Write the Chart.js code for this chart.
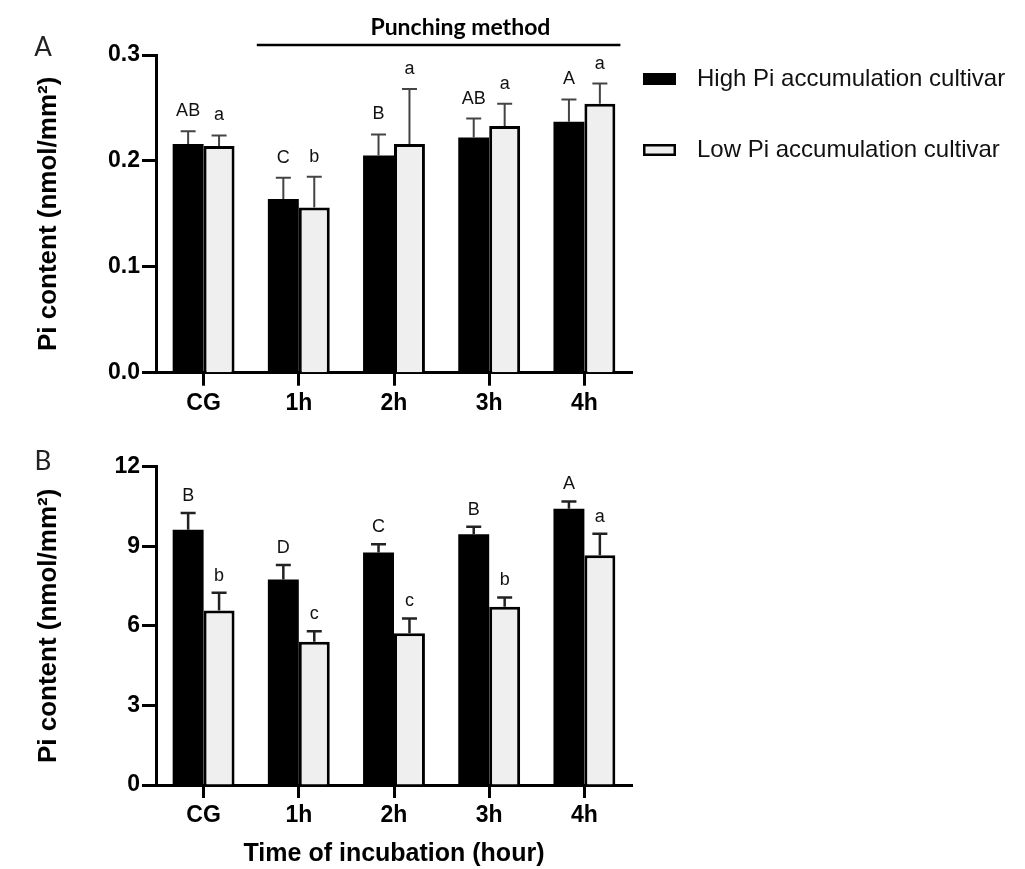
<!DOCTYPE html>
<html>
<head>
<meta charset="utf-8">
<script src="https://cdn.jsdelivr.net/npm/chart.js@4.4.1/dist/chart.umd.min.js"></script>
<style>
  html, body { margin: 0; padding: 0; background: #fff; }
  #chartA { position: absolute; left: 0; top: 0; }
  #chartB { position: absolute; left: 0; top: 430px; }
</style>
</head>
<body>
<canvas id="chartA" width="1025" height="430"></canvas>
<canvas id="chartB" width="1025" height="439"></canvas>
<script>
// categories and series
var categories = ['CG', '1h', '2h', '3h', '4h'];
var seriesNames = ['High Pi accumulation cultivar', 'Low Pi accumulation cultivar'];

// panel A: punching method (nmol/mm2)
var highA = [0.216, 0.164, 0.205, 0.222, 0.237];
var highAErr = [0.012, 0.020, 0.020, 0.018, 0.021];
var highALetters = ['AB', 'C', 'B', 'AB', 'A'];
var lowA = [0.214, 0.156, 0.216, 0.233, 0.254];
var lowAErr = [0.010, 0.029, 0.052, 0.021, 0.019];
var lowALetters = ['a', 'b', 'a', 'a', 'a'];

// panel B (nmol/mm2)
var highB = [9.62, 7.75, 8.77, 9.45, 10.41];
var highBErr = [0.63, 0.54, 0.31, 0.29, 0.28];
var highBLetters = ['B', 'D', 'C', 'B', 'A'];
var lowB = [6.58, 5.40, 5.72, 6.72, 8.66];
var lowBErr = [0.67, 0.40, 0.56, 0.35, 0.81];
var lowBLetters = ['b', 'c', 'c', 'b', 'a'];

var yTicksA = [0, 0.1, 0.2, 0.3];
var yTicksB = [0, 3, 6, 9, 12];

var darkFill = '#000000';
var lightFill = '#efefef';
var axisFont = { family: 'Liberation Sans', weight: 'bold', size: 23 };

// error bars + significance letters
var errorBarPlugin = {
    id: 'errorBars',
    afterDatasetsDraw: function(chart, args, opts) {
        var ctx = chart.ctx;
        var yScale = chart.scales.y;
        chart.data.datasets.forEach(function(ds, i) {
            var meta = chart.getDatasetMeta(i);
            meta.data.forEach(function(bar, j) {
                var top = yScale.getPixelForValue(ds.data[j] + ds.errors[j]);
                ctx.save();
                ctx.strokeStyle = opts.color;
                ctx.lineWidth = opts.width;
                ctx.beginPath();
                ctx.moveTo(bar.x, bar.y);
                ctx.lineTo(bar.x, top);
                ctx.moveTo(bar.x - opts.cap, top);
                ctx.lineTo(bar.x + opts.cap, top);
                ctx.stroke();
                ctx.fillStyle = '#111';
                ctx.font = '18px "Liberation Sans"';
                ctx.textAlign = 'center';
                ctx.textBaseline = 'middle';
                ctx.fillText(ds.letters[j], bar.x, top - opts.gap);
                ctx.restore();
            });
        });
    }
};

// panel letter and "Punching method" bracket
var panelPlugin = {
    id: 'panel',
    afterDraw: function(chart, args, opts) {
        var ctx = chart.ctx;
        ctx.save();
        ctx.fillStyle = '#222';
        ctx.font = '26px Lato';
        ctx.textAlign = 'center';
        ctx.textBaseline = 'middle';
        ctx.fillText(opts.letter, opts.letterX, opts.letterY);
        if (opts.bracket) {
            var xs = chart.scales.x;
            var x0 = xs.getPixelForValue(1) - 42;
            var x1 = xs.getPixelForValue(4) + 36;
            var ly = chart.chartArea.top - 10;
            ctx.strokeStyle = '#000';
            ctx.lineWidth = 2.5;
            ctx.beginPath();
            ctx.moveTo(x0, ly);
            ctx.lineTo(x1, ly);
            ctx.stroke();
            ctx.fillStyle = '#000';
            ctx.font = 'bold 23px Lato';
            ctx.fillText(opts.bracket, x0 + (x1 - x0) * 0.56, ly - 17);
        }
        ctx.restore();
    }
};

// legend at the right of panel A
var sideLegend = {
    id: 'sideLegend',
    afterDraw: function(chart, args, opts) {
        if (!opts.show) return;
        var ctx = chart.ctx;
        ctx.save();
        chart.data.datasets.forEach(function(ds, i) {
            var y = opts.top + i * opts.gap;
            ctx.fillStyle = ds.backgroundColor;
            ctx.fillRect(opts.x, y - 6, 33, 12);
            ctx.strokeStyle = '#000';
            ctx.lineWidth = 2.5;
            ctx.strokeRect(opts.x + 1.25, y - 4.75, 30.5, 9.5);
            ctx.fillStyle = '#111';
            ctx.font = '24px "Liberation Sans"';
            ctx.textAlign = 'left';
            ctx.textBaseline = 'middle';
            ctx.fillText(ds.label, opts.x + 54, y);
        });
        ctx.restore();
    }
};

function makeChart(id, cfg) {
    var ctx = document.getElementById(id).getContext('2d');
    return new Chart(ctx, {
        type: 'bar',
        data: {
            labels: categories,
            datasets: [{
                label: seriesNames[0],
                data: cfg.high,
                errors: cfg.highErr,
                letters: cfg.highLetters,
                backgroundColor: darkFill,
                borderWidth: 0,
                categoryPercentage: 0.65,
                barPercentage: 1.0
            }, {
                label: seriesNames[1],
                data: cfg.low,
                errors: cfg.lowErr,
                letters: cfg.lowLetters,
                backgroundColor: lightFill,
                borderColor: '#000',
                borderWidth: 3,
                categoryPercentage: 0.65,
                barPercentage: 1.0
            }]
        },
        options: {
            responsive: false,
            animation: false,
            layout: { padding: { left: 0, right: 393, top: cfg.padTop, bottom: 0 } },
            plugins: {
                legend: { display: false },
                tooltip: { enabled: false },
                errorBars: { color: cfg.errColor, width: cfg.errWidth, cap: 7.5, gap: cfg.letterGap },
                panel: { letter: cfg.panel, letterX: 43, letterY: cfg.panelY, bracket: cfg.bracket },
                sideLegend: { show: cfg.legend, x: 643, top: 79, gap: 71 }
            },
            scales: {
                x: {
                    ticks: { font: axisFont, color: '#000', padding: 4 },
                    grid: { drawOnChartArea: false, offset: false, tickLength: 13, tickWidth: 3, tickColor: '#000' },
                    border: { color: '#000', width: 3 },
                    title: {
                        display: !!cfg.xTitle,
                        text: cfg.xTitle,
                        color: '#000',
                        font: { family: 'Liberation Sans', weight: 'bold', size: 25 },
                        padding: { top: 0, bottom: 0 }
                    },
                    afterFit: function(s) { s.height = cfg.xHeight; }
                },
                y: {
                    min: cfg.yTicks[0],
                    max: cfg.yTicks[cfg.yTicks.length - 1],
                    afterBuildTicks: function(s) {
                        s.ticks = cfg.yTicks.map(function(v) { return { value: v }; });
                    },
                    ticks: {
                        font: axisFont,
                        color: '#000',
                        padding: 2,
                        callback: function(v) { return cfg.yFixed ? v.toFixed(1) : String(v); }
                    },
                    grid: { drawOnChartArea: false, tickLength: 14, tickWidth: 3, tickColor: '#000' },
                    border: { color: '#000', width: 3 },
                    title: {
                        display: true,
                        text: 'Pi content (nmol/mm\u00B2)',
                        color: '#000',
                        font: { family: 'Liberation Sans', weight: 'bold', size: 26 },
                        padding: { top: 33, bottom: 0 }
                    },
                    afterFit: function(s) { s.width = 156; }
                }
            }
        },
        plugins: [errorBarPlugin, panelPlugin, sideLegend]
    });
}

makeChart('chartA', {
    high: highA, highErr: highAErr, highLetters: highALetters,
    low: lowA, lowErr: lowAErr, lowLetters: lowALetters,
    yTicks: yTicksA, yFixed: true,
    padTop: 55, xHeight: 57.3,
    errColor: '#444', errWidth: 2, letterGap: 20,
    panel: 'A', panelY: 48, bracket: 'Punching method',
    legend: true, xTitle: ''
});

makeChart('chartB', {
    high: highB, highErr: highBErr, highLetters: highBLetters,
    low: lowB, lowErr: lowBErr, lowLetters: lowBLetters,
    yTicks: yTicksB, yFixed: false,
    padTop: 36.7, xHeight: 84,
    errColor: '#222', errWidth: 2.5, letterGap: 17,
    panel: 'B', panelY: 32, bracket: '',
    legend: false, xTitle: 'Time of incubation (hour)'
});
</script>
</body>
</html>
